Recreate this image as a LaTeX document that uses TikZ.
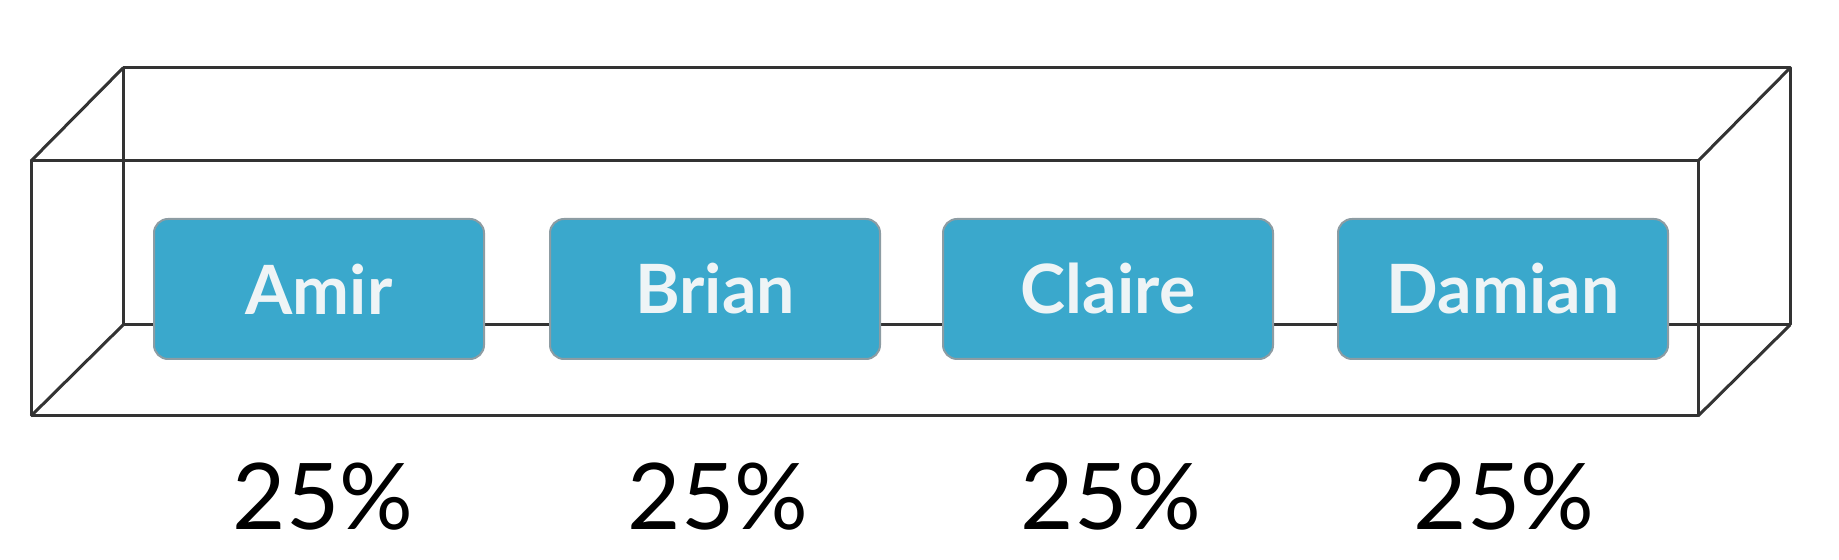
\documentclass[tikz,border=0pt]{standalone}
\usepackage{fontspec}
\setmainfont{Lato}
\definecolor{boxfill}{HTML}{3AA8CC}
\definecolor{boxline}{HTML}{8C9CA3}
\definecolor{wire}{HTML}{333333}
\definecolor{nametext}{HTML}{EEF4F6}
\tikzset{
  wireline/.style={draw=wire, line width=1.5pt, line join=round},
  personbox/.style={rectangle, rounded corners=7pt, fill=boxfill, draw=boxline, line width=1pt,
    minimum width=165pt, minimum height=70pt, inner sep=0pt,
    font=\fontsize{34}{40}\selectfont\bfseries, text=nametext},
  pct/.style={font=\fontsize{46}{52}\selectfont, text=black, inner sep=0pt}
}
\begin{document}
\begin{tikzpicture}[x=0.5pt, y=-0.5pt]
\useasboundingbox (0,0) rectangle (1839,560);
% back rectangle corners
\coordinate (btl) at (123,68);
\coordinate (btr) at (1790,68);
\coordinate (bbl) at (123,325);
\coordinate (bbr) at (1790,325);
% front rectangle corners
\coordinate (ftl) at (31,161);
\coordinate (ftr) at (1698,161);
\coordinate (fbl) at (31,416);
\coordinate (fbr) at (1698,416);
\draw[wireline] (btl) -- (btr) -- (bbr) -- (bbl) -- cycle;
\draw[wireline] (ftl) -- (ftr) -- (fbr) -- (fbl) -- cycle;
\draw[wireline] (ftl) -- (btl);
\draw[wireline] (ftr) -- (btr);
\draw[wireline] (fbl) -- (bbl);
\draw[wireline] (fbr) -- (bbr);
% person boxes
\node[personbox] (amir) at (319,289) {Amir};
\node[personbox] (brian) at (715,289) {Brian};
\node[personbox] (claire) at (1108,289) {Claire};
\node[personbox] (damian) at (1503,289) {Damian};
% percentages
\node[pct] (pa) at (323,497) {25\%};
\node[pct] (pb) at (718,497) {25\%};
\node[pct] (pc) at (1111,497) {25\%};
\node[pct] (pd) at (1504,497) {25\%};
\end{tikzpicture}
\end{document}
